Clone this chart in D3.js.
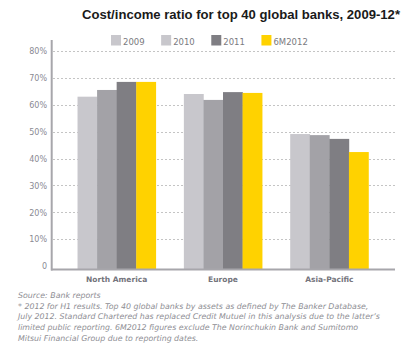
<!DOCTYPE html>
<html>
<head>
<meta charset="utf-8">
<script src="https://cdn.jsdelivr.net/npm/d3@7"></script>
<style>
  body { margin: 0; background: #fff; }
  svg { display: block; }
</style>
</head>
<body>
<div id="chart"></div>
<script>
// chart data
const categories = ['North America', 'Europe', 'Asia-Pacific'];
const seriesNames = ['2009', '2010', '2011', '6M2012'];
const values2009 = [63.0, 64.0, 49.1];
const values2010 = [65.5, 61.8, 48.7];
const values2011 = [68.5, 64.7, 47.3];
const values6M2012 = [68.5, 64.4, 42.4];
const yTicks = [0, 10, 20, 30, 40, 50, 60, 70, 80];
const yTickLabels = ['0', '10%', '20%', '30%', '40%', '50%', '60%', '70%', '80%'];
const noteLines = [
  'Source: Bank reports',
  '* 2012 for H1 results. Top 40 global banks by assets as defined by The Banker Database,',
  'July 2012. Standard Chartered has replaced Credit Mutuel in this analysis due to the latter\u2019s',
  'limited public reporting. 6M2012 figures exclude The Norinchukin Bank and Sumitomo',
  'Mitsui Financial Group due to reporting dates.',
];

const seriesValues = [values2009, values2010, values2011, values6M2012];
const barColors = ['#c8c7cc', '#a3a2a7', '#7f7e83', '#ffd200'];
// the reference legend shows 2010 with the light swatch too
const legendColors = ['#c8c7cc', '#c8c7cc', '#7f7e83', '#ffd200'];

const W = 420;
const H = 350;

const svg = d3.select('#chart').append('svg')
  .attr('width', W)
  .attr('height', H);

// scales
const x = d3.scaleBand()
  .domain(categories)
  .range([52, 394])
  .paddingInner(0.264)
  .paddingOuter(0.24);

const xInner = d3.scaleBand()
  .domain(seriesNames)
  .range([0, x.bandwidth()]);

const y = d3.scaleLinear()
  .domain([0, 80])
  .range([266, 51]);

const baseY = 269;

// title
svg.append('text')
  .attr('x', 400)
  .attr('y', 19)
  .attr('text-anchor', 'end')
  .style('font-family', '"Liberation Sans", Arial, sans-serif')
  .style('font-weight', 'bold')
  .style('font-size', '13.1px')
  .style('fill', '#1a1a1a')
  .text('Cost/income ratio for top 40 global banks, 2009-12*');

// legend
const legend = svg.append('g');
let lx = 111;
seriesNames.forEach((name, i) => {
  const item = legend.append('g').attr('transform', `translate(${lx},35)`);
  item.append('rect')
    .attr('width', 10)
    .attr('height', 10.5)
    .attr('fill', legendColors[i]);
  const t = item.append('text')
    .attr('x', 12)
    .attr('y', 9.8)
    .style('font-family', '"DejaVu Sans", Verdana, sans-serif')
    .style('font-size', '8.5px')
    .style('fill', '#7a7a80')
    .text(name);
  lx += 12 + t.node().getComputedTextLength() + 16.5;
});

// gridlines
svg.append('g')
  .selectAll('line')
  .data(yTicks.filter((d) => d > 0))
  .join('line')
  .attr('x1', 53)
  .attr('x2', 395)
  .attr('y1', (d) => Math.round(y(d)) + 0.5)
  .attr('y2', (d) => Math.round(y(d)) + 0.5)
  .attr('stroke', '#c4c4c4')
  .attr('stroke-width', 1)
  .attr('stroke-dasharray', '2,2');

// y axis labels
const yAxis = d3.axisLeft(y)
  .tickValues(yTicks)
  .tickFormat((d, i) => yTickLabels[i])
  .tickSize(0)
  .tickPadding(0);

svg.append('g')
  .attr('transform', 'translate(47,0)')
  .call(yAxis)
  .call((g) => g.select('.domain').remove())
  .call((g) => g.selectAll('text')
    .attr('dy', '0.35em')
    .style('font-family', '"DejaVu Sans", Verdana, sans-serif')
    .style('font-size', '8px')
    .style('fill', '#8a8a93'));

// bars
const groups = svg.append('g')
  .selectAll('g')
  .data(categories)
  .join('g')
  .attr('transform', (d) => `translate(${x(d)},0)`);

groups.selectAll('rect')
  .data((d, ci) => seriesNames.map((s, si) => ({ s, si, v: seriesValues[si][ci] })))
  .join('rect')
  .attr('x', (d) => xInner(d.s))
  .attr('width', xInner.bandwidth() + 0.3)
  .attr('y', (d) => y(d.v))
  .attr('height', (d) => baseY - y(d.v))
  .attr('fill', (d) => barColors[d.si]);

// axis lines
svg.append('line')
  .attr('x1', 51.7).attr('x2', 51.7)
  .attr('y1', 40).attr('y2', 270.5)
  .attr('stroke', '#a7a6ab')
  .attr('stroke-width', 2);

svg.append('line')
  .attr('x1', 51).attr('x2', 395)
  .attr('y1', 269.5).attr('y2', 269.5)
  .attr('stroke', '#a7a6ab')
  .attr('stroke-width', 2);

// category labels
const xAxis = d3.axisBottom(x).tickSize(0).tickPadding(0);
svg.append('g')
  .attr('transform', 'translate(0,276.5)')
  .call(xAxis)
  .call((g) => g.select('.domain').remove())
  .call((g) => g.selectAll('text')
    .attr('dy', '0.71em')
    .style('font-family', '"DejaVu Sans", Verdana, sans-serif')
    .style('font-weight', 'bold')
    .style('font-size', '7.5px')
    .style('fill', '#74747c'));

// source and footnote
svg.append('g')
  .selectAll('text')
  .data(noteLines)
  .join('text')
  .attr('x', 18)
  .attr('y', (d, i) => 298 + i * 10.7)
  .style('font-family', '"DejaVu Sans", Verdana, sans-serif')
  .style('font-style', 'italic')
  .style('font-size', '7.85px')
  .style('fill', '#8e8e94')
  .text((d) => d);
</script>
</body>
</html>
